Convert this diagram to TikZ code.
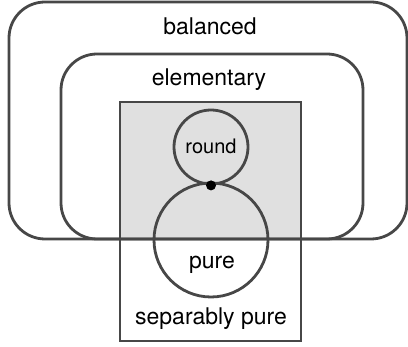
\documentclass[tikz,border=0pt]{standalone}
\usepackage{fontspec}
\setmainfont{TeX Gyre Heros}
\tikzset{% default arrow tips
    >=latex
}
\definecolor{edge}{HTML}{474747}
\definecolor{boxfill}{HTML}{E0E0E0}

\begin{document}
\begin{tikzpicture}[x=1pt,y=-1pt,
    set/.style={draw=edge, line width=2.8pt, rounded corners=36pt},
    box/.style={draw=edge, line width=2.8pt},
    ring/.style={circle, draw=edge, line width=2.8pt, inner sep=0pt},
    label/.style={anchor=base, inner sep=0pt, font=\fontsize{23}{27}\selectfont},
    touch/.style={circle, fill=black, inner sep=0pt, minimum size=10pt}
]
    \useasboundingbox (0,0) rectangle (408,347);

    % corners of the sets
    \coordinate (balNW) at (9,2);
    \coordinate (balSE) at (407,239);
    \coordinate (eleNW) at (61,54);
    \coordinate (eleSE) at (363,239);
    \coordinate (sepNW) at (120,102);
    \coordinate (sepSE) at (301,341);

    % shaded part of separably pure
    \fill[boxfill] (sepNW) rectangle (sepSE |- eleSE);

    % sets
    \draw[set] (balNW) rectangle (balSE);
    \draw[set] (eleNW) rectangle (eleSE);
    \draw[box] (sepNW) rectangle (sepSE);

    % circles
    \node[ring, minimum size=74pt] (round) at (211,147) {};
    \node[ring, minimum size=114pt] (pure) at (211,240) {};
    \node[touch] (meet) at (round.south) {};

    % labels
    \node[label] (balanced) at (210,35) {balanced};
    \node[label] (elementary) at (209,86) {elementary};
    \node[label, font=\fontsize{20}{24}\selectfont] (roundtext) at (211,154) {round};
    \node[label] (puretext) at (212,269) {pure};
    \node[label] (separably) at (211,325) {separably pure};
\end{tikzpicture}
\end{document}
